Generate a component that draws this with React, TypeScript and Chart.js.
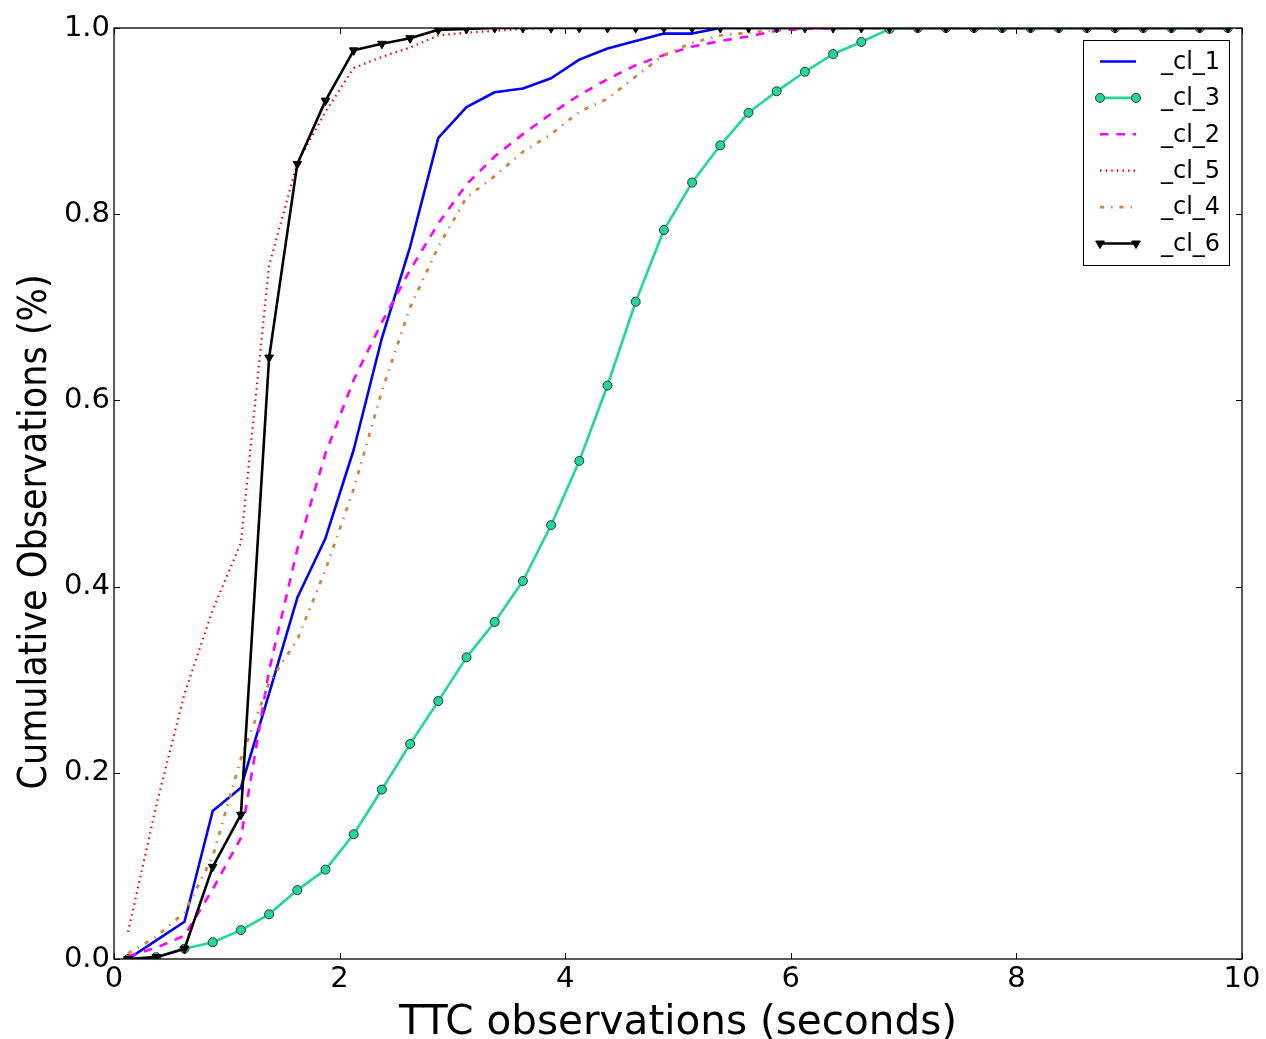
import React, { useEffect, useRef } from 'react';
import { Chart, registerables } from 'chart.js';

Chart.register(...registerables);

// TTC bin centres (seconds)
const ttcValues = [
  0.125, 0.375, 0.625, 0.875, 1.125, 1.375, 1.625, 1.875, 2.125, 2.375,
  2.625, 2.875, 3.125, 3.375, 3.625, 3.875, 4.125, 4.375, 4.625, 4.875,
  5.125, 5.375, 5.625, 5.875, 6.125, 6.375, 6.625, 6.875, 7.125, 7.375,
  7.625, 7.875, 8.125, 8.375, 8.625, 8.875, 9.125, 9.375, 9.625, 9.875,
];

const cl1 = [
  0.000, 0.020, 0.040, 0.159, 0.184, 0.285, 0.388, 0.452, 0.547, 0.667,
  0.765, 0.882, 0.915, 0.931, 0.935, 0.946, 0.966, 0.978, 0.986, 0.994,
  0.994, 1.000, 1.000, 1.000, 1.000, 1.000, 1.000, 1.000, 1.000, 1.000,
  1.000, 1.000, 1.000, 1.000, 1.000, 1.000, 1.000, 1.000, 1.000, 1.000,
];

const cl3 = [
  0.000, 0.002, 0.011, 0.018, 0.031, 0.048, 0.074, 0.096, 0.134, 0.182,
  0.231, 0.277, 0.324, 0.362, 0.406, 0.466, 0.535, 0.616, 0.706, 0.783,
  0.834, 0.874, 0.909, 0.932, 0.953, 0.972, 0.985, 0.999, 1.000, 1.000,
  1.000, 1.000, 1.000, 1.000, 1.000, 1.000, 1.000, 1.000, 1.000, 1.000,
];

const cl2 = [
  0.003, 0.012, 0.025, 0.075, 0.130, 0.310, 0.440, 0.543, 0.622, 0.684,
  0.740, 0.790, 0.832, 0.862, 0.886, 0.908, 0.928, 0.945, 0.960, 0.971,
  0.980, 0.986, 0.991, 0.997, 0.999, 1.000, 1.000, 1.000, 1.000, 1.000,
  1.000, 1.000, 1.000, 1.000, 1.000, 1.000, 1.000, 1.000, 1.000, 1.000,
];

const cl5 = [
  0.029, 0.165, 0.285, 0.375, 0.447, 0.745, 0.855, 0.910, 0.957, 0.969,
  0.979, 0.992, 0.995, 0.997, 0.999, 1.000, 1.000, 1.000, 1.000, 1.000,
  1.000, 1.000, 1.000, 1.000, 1.000, 1.000, 1.000, 1.000, 1.000, 1.000,
  1.000, 1.000, 1.000, 1.000, 1.000, 1.000, 1.000, 1.000, 1.000, 1.000,
];

const cl4 = [
  0.006, 0.024, 0.050, 0.110, 0.215, 0.297, 0.343, 0.418, 0.505, 0.610,
  0.700, 0.765, 0.818, 0.841, 0.867, 0.886, 0.910, 0.924, 0.948, 0.971,
  0.984, 0.992, 0.995, 0.998, 1.000, 1.000, 1.000, 1.000, 1.000, 1.000,
  1.000, 1.000, 1.000, 1.000, 1.000, 1.000, 1.000, 1.000, 1.000, 1.000,
];

const cl6 = [
  0.000, 0.002, 0.011, 0.099, 0.155, 0.646, 0.854, 0.922, 0.976, 0.983,
  0.989, 0.998, 0.999, 1.000, 1.000, 1.000, 1.000, 1.000, 1.000, 1.000,
  1.000, 1.000, 1.000, 1.000, 1.000, 1.000, 1.000, 1.000, 1.000, 1.000,
  1.000, 1.000, 1.000, 1.000, 1.000, 1.000, 1.000, 1.000, 1.000, 1.000,
];

const seriesLabels = ['_cl_1', '_cl_3', '_cl_2', '_cl_5', '_cl_4', '_cl_6'];
const seriesValues = [cl1, cl3, cl2, cl5, cl4, cl6];
const seriesColors = ['#0000ff', '#20d898', '#ff00ff', '#ff0000', '#cd853f', '#000000'];
const seriesDashes: number[][] = [[], [], [8.5, 8], [1.5, 4.1], [4.2, 6.9, 1.4, 6.9], []];
const seriesWidths = [2.6, 2.6, 2.6, 2.2, 2.8, 2.6];
const seriesMarkers = ['none', 'circle', 'none', 'none', 'none', 'triangleDown'];

const xAxisTitle = 'TTC observations (seconds)';
const yAxisTitle = 'Cumulative Observations (%)';

const FONT = '"DejaVu Sans", sans-serif';
const CONDENSED = '"DejaVu Sans Condensed", "DejaVu Sans", sans-serif';

function drawMarker(ctx: CanvasRenderingContext2D, kind: string, x: number, y: number, color: string) {
  if (kind === 'circle') {
    ctx.beginPath();
    ctx.arc(x, y, 4.5, 0, Math.PI * 2);
    ctx.fillStyle = color;
    ctx.fill();
    ctx.lineWidth = 1;
    ctx.strokeStyle = '#333333';
    ctx.stroke();
  } else if (kind === 'triangleDown') {
    const r = 5;
    ctx.beginPath();
    ctx.moveTo(x, y + r);
    ctx.lineTo(x - 0.866 * r, y - 0.5 * r);
    ctx.lineTo(x + 0.866 * r, y - 0.5 * r);
    ctx.closePath();
    ctx.fillStyle = color;
    ctx.fill();
    ctx.lineWidth = 1;
    ctx.strokeStyle = color;
    ctx.stroke();
  }
}

const frameTicksPlugin = {
  id: 'frameTicks',
  afterDatasetsDraw(chart: any) {
    const { ctx, chartArea: a, scales } = chart;
    const L = 6;
    ctx.save();
    ctx.strokeStyle = '#000';
    ctx.lineWidth = 1;
    ctx.setLineDash([]);
    ctx.beginPath();
    scales.x.ticks.forEach((t: any) => {
      const px = Math.round(scales.x.getPixelForValue(t.value)) + 0.5;
      ctx.moveTo(px, a.bottom);
      ctx.lineTo(px, a.bottom - L);
      ctx.moveTo(px, a.top);
      ctx.lineTo(px, a.top + L);
    });
    scales.y.ticks.forEach((t: any) => {
      const py = Math.round(scales.y.getPixelForValue(t.value)) + 0.5;
      ctx.moveTo(a.left, py);
      ctx.lineTo(a.left + L, py);
      ctx.moveTo(a.right, py);
      ctx.lineTo(a.right - L, py);
    });
    ctx.stroke();
    ctx.lineWidth = 1.3;
    ctx.strokeRect(a.left, a.top, a.right - a.left, a.bottom - a.top);
    ctx.restore();
  },
};

const yTitlePlugin = {
  id: 'yTitle',
  afterDraw(chart: any) {
    const { ctx } = chart;
    ctx.save();
    ctx.translate(36, 532);
    ctx.rotate(-Math.PI / 2);
    ctx.fillStyle = '#000';
    ctx.font = '39px ' + CONDENSED;
    ctx.textAlign = 'center';
    ctx.textBaseline = 'middle';
    ctx.fillText(yAxisTitle, 0, 0);
    ctx.restore();
  },
};

const boxLegendPlugin = {
  id: 'boxLegend',
  afterDraw(chart: any) {
    const { ctx, chartArea: a } = chart;
    const w = 146;
    const h = 225;
    const left = Math.round(a.right - 13 - w);
    const top = Math.round(a.top + 12);
    ctx.save();
    ctx.fillStyle = '#ffffff';
    ctx.fillRect(left, top, w, h);
    ctx.strokeStyle = '#000';
    ctx.lineWidth = 1;
    ctx.setLineDash([]);
    ctx.strokeRect(left + 0.5, top + 0.5, w, h);
    chart.data.datasets.forEach((ds: any, i: number) => {
      const y = top + 21.5 + i * 36.4;
      const x0 = left + 17;
      const x1 = left + 53;
      ctx.beginPath();
      ctx.setLineDash(ds.borderDash || []);
      ctx.strokeStyle = ds.borderColor;
      ctx.lineWidth = ds.borderWidth;
      ctx.lineCap = 'butt';
      ctx.moveTo(x0, y);
      ctx.lineTo(x1, y);
      ctx.stroke();
      ctx.setLineDash([]);
      const kind = seriesMarkers[i];
      if (kind !== 'none') {
        drawMarker(ctx, kind, x0, y, ds.borderColor);
        drawMarker(ctx, kind, x1, y, ds.borderColor);
      }
      ctx.fillStyle = '#000';
      ctx.font = '24px ' + FONT;
      ctx.textBaseline = 'middle';
      ctx.textAlign = 'left';
      ctx.fillText(ds.label, left + 78, y + 1);
    });
    ctx.restore();
  },
};

export default function App() {
  const canvasRef = useRef<HTMLCanvasElement>(null);

  useEffect(() => {
    if (!canvasRef.current) return;
    const datasets = seriesLabels.map((label, i) => {
      const marker = seriesMarkers[i];
      return {
        label,
        data: ttcValues.map((x, j) => ({ x, y: seriesValues[i][j] })),
        borderColor: seriesColors[i],
        backgroundColor: seriesColors[i],
        borderWidth: seriesWidths[i],
        borderDash: seriesDashes[i],
        borderJoinStyle: 'round' as const,
        borderCapStyle: 'butt' as const,
        tension: 0,
        fill: false,
        clip: 0,
        order: seriesLabels.length - i,
        pointRadius: marker === 'none' ? 0 : marker === 'circle' ? 4.5 : 5,
        pointHoverRadius: marker === 'none' ? 0 : 5,
        pointStyle: marker === 'triangleDown' ? 'triangle' : 'circle',
        pointRotation: marker === 'triangleDown' ? 180 : 0,
        pointBackgroundColor: seriesColors[i],
        pointBorderColor: marker === 'circle' ? '#333333' : seriesColors[i],
        pointBorderWidth: 1,
      };
    });

    const chart = new Chart(canvasRef.current, {
      type: 'line',
      data: { datasets } as any,
      options: {
        animation: false,
        responsive: false,
        devicePixelRatio: 1,
        events: [],
        layout: { padding: { top: 28, right: 24, bottom: 0, left: 0 } },
        plugins: {
          legend: { display: false },
          tooltip: { enabled: false },
        },
        scales: {
          x: {
            type: 'linear',
            min: 0,
            max: 10,
            grid: { display: false, drawTicks: false },
            border: { display: false },
            ticks: {
              stepSize: 2,
              padding: 3,
              maxRotation: 0,
              autoSkip: false,
              color: '#000',
              font: { family: FONT, size: 29 },
              callback: (v: any) => String(v),
            },
            title: {
              display: true,
              text: xAxisTitle,
              color: '#000',
              font: { family: FONT, size: 40.5, lineHeight: 0.75 },
              padding: { top: 0, bottom: 0 },
            },
            afterFit: (scale: any) => {
              scale.height = 80;
            },
          },
          y: {
            type: 'linear',
            min: 0,
            max: 1,
            grid: { display: false, drawTicks: false },
            border: { display: false },
            ticks: {
              stepSize: 0.2,
              padding: 4,
              autoSkip: false,
              color: '#000',
              font: { family: FONT, size: 29 },
              callback: (v: any) => Number(v).toFixed(1),
            },
            title: { display: false, text: yAxisTitle },
            afterFit: (scale: any) => {
              scale.width = 114;
            },
          },
        },
      },
      plugins: [frameTicksPlugin, yTitlePlugin, boxLegendPlugin],
    });

    return () => chart.destroy();
  }, []);

  return (
    <div style={{ position: 'absolute', left: 0, top: 0, width: 1266, height: 1039, background: '#ffffff' }}>
      <canvas ref={canvasRef} width={1266} height={1039} style={{ display: 'block', width: 1266, height: 1039 }} />
    </div>
  );
}
